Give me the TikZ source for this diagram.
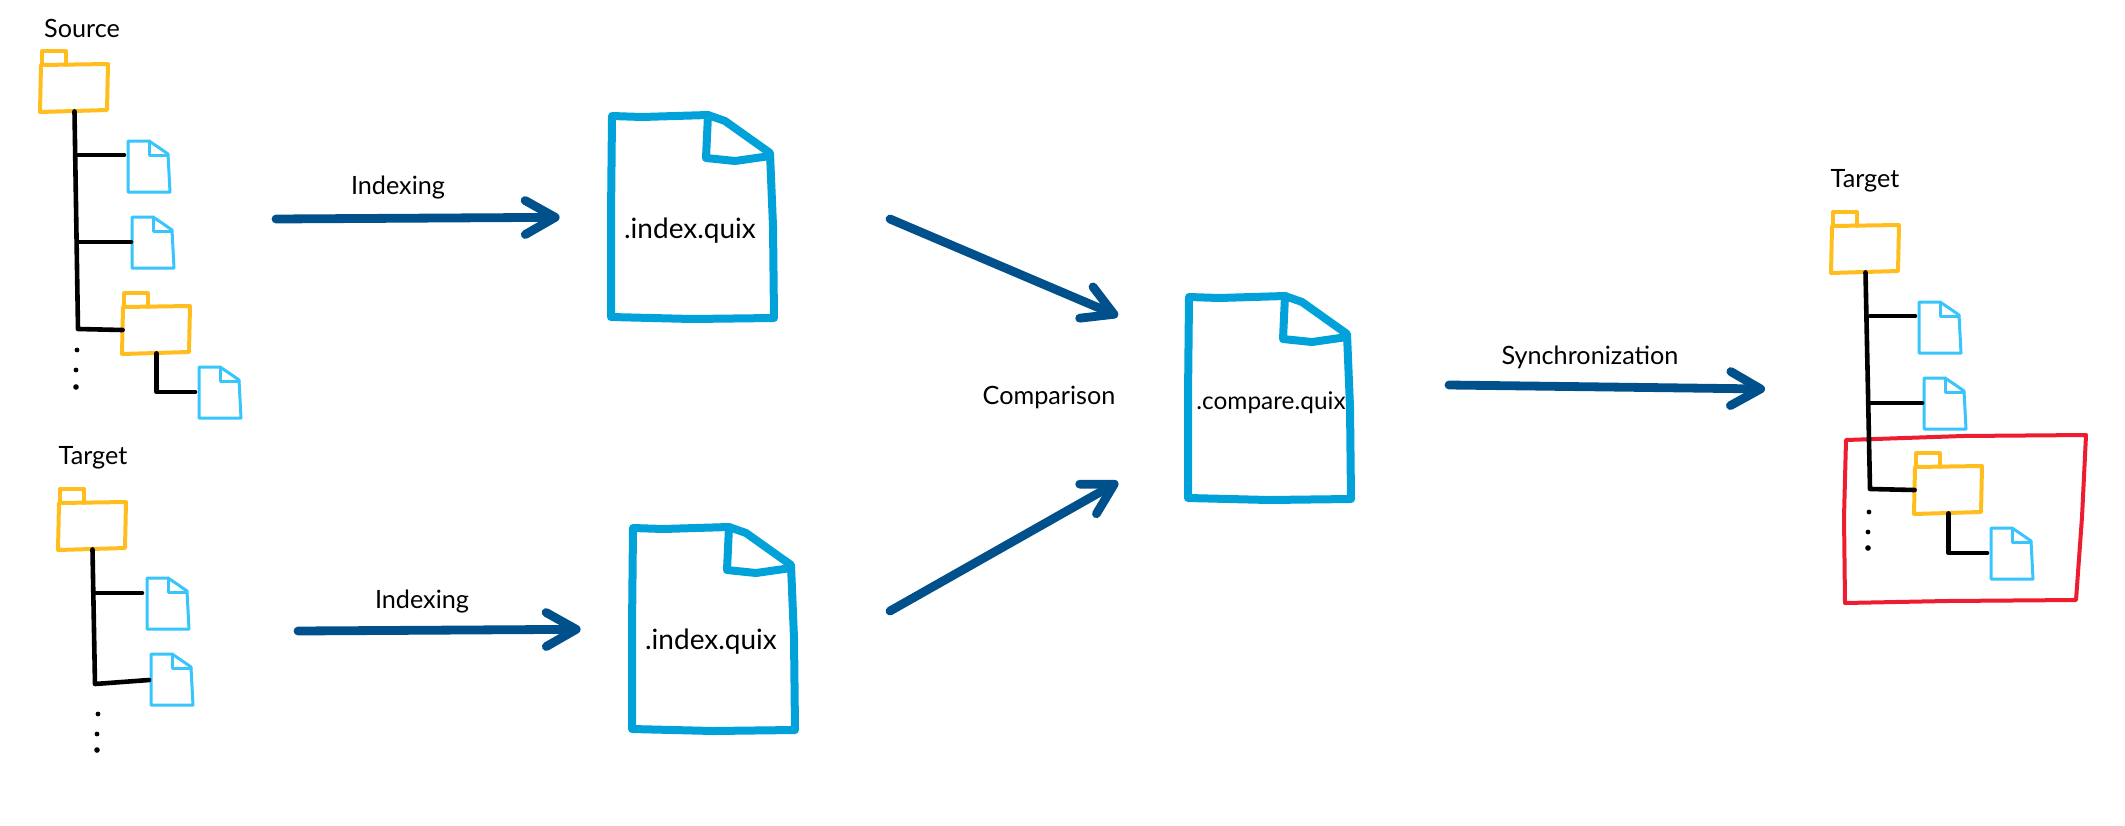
\documentclass[tikz,border=0pt]{standalone}
\usepackage{fontspec}
\setmainfont{Lato}
\usetikzlibrary{arrows.meta}
\definecolor{FolderCol}{HTML}{FFBE1E}
\definecolor{FileCol}{HTML}{38C5FB}
\definecolor{DocCol}{HTML}{00A2D9}
\definecolor{FlowCol}{HTML}{00508C}
\definecolor{MarkCol}{HTML}{ED1C2E}
\tikzset{
  folderbox/.style={minimum width=33.5pt,minimum height=23pt,inner sep=0pt},
  filebox/.style={minimum width=21pt,minimum height=25.5pt,inner sep=0pt},
  docbox/.style={minimum width=80pt,minimum height=101pt,inner sep=0pt},
  folderline/.style={FolderCol,line width=2pt,line join=round,line cap=round},
  fileline/.style={FileCol,line width=1.5pt,line join=round,line cap=round},
  docline/.style={DocCol,line width=4pt,line join=round,line cap=round},
  treeline/.style={black,line width=2.3pt,line join=round,line cap=round},
  flowarrow/.style={FlowCol,line width=4.4pt,line cap=round,
    -{Straight Barb[length=15pt,width=17pt,round]}},
  lab/.style={font=\fontsize{12.6}{14}\selectfont,inner sep=0pt},
  doclab/.style={font=\fontsize{14}{16}\selectfont,inner sep=0pt}
}
% name, left, top of the folder body
\newcommand{\folder}[3]{
  \node[folderbox] (#1) at (#2+33.5,#3+23) {};
  \draw[folderline,shift={(#2,#3)}] (0,0) -- (67,-1) -- (66,45) -- (-1,47) -- cycle;
  \draw[folderline,shift={(#2,#3)}] (1,0) -- (1,-14) -- (25,-14) -- (25,0);
}
% name, left, top, offset of the point where the branch ends
\newcommand{\filedoc}[5]{
  \node[filebox] (#1) at (#2+21,#3+25.5) {};
  \coordinate (#1-in) at (#2+#4,#3+#5);
  \draw[fileline,shift={(#2,#3)}] (0,0) -- (21,0) -- (30,6) -- (40,13) -- (42,51) -- (0,51) -- cycle;
  \draw[fileline,shift={(#2,#3)}] (21,0) -- (21,14) -- (40,14);
}
% name, left, top
\newcommand{\bigdoc}[3]{
  \node[docbox] (#1) at (#2+80,#3+101) {};
  \draw[docline,shift={(#2,#3)}] (0,0) -- (30,1) -- (96,-1) -- (113,5) -- (158,37)
    -- (161,110) -- (162,202) -- (80,203) -- (-1,201) -- (-1,100) -- cycle;
  \draw[docline,shift={(#2,#3)}] (96,-1) -- (94,42) -- (123,45) -- (158,40);
}
\newcommand{\threedots}[3]{
  \fill (#1,#2) circle (1.2pt);
  \fill (#1-1,#2+20) circle (1.2pt);
  \fill (#1-1,#3) circle (1.4pt);
}

\begin{document}
\begin{tikzpicture}[x=0.5pt,y=-0.5pt]
  \useasboundingbox (0,0) rectangle (2125,825);

  % --- Left: source tree ---
  \node[lab] (srclabel) at (82,28) {Source};
  \folder{srcroot}{41}{65}
  \folder{srcsub}{123}{307}
  \filedoc{srcfile1}{128}{141}{-4}{14}
  \filedoc{srcfile2}{132}{217}{-1}{25}
  \filedoc{srcfile3}{199}{367}{-4}{25}
  \coordinate (srccorner) at (78,329);
  \draw[treeline] (srcroot.south) -- (srccorner) -- (srcsub.west);
  \draw[treeline] (srcfile1-in) -- (srcfile1-in -| srccorner);
  \draw[treeline] (srcfile2-in) -- (srcfile2-in -| srccorner);
  \draw[treeline] (srcsub.south) |- (srcfile3-in);
  \threedots{77}{350}{387}

  % --- Left: target tree ---
  \node[lab] (tgtlabel) at (93,458) {Target};
  \folder{tgtroot}{59}{503}
  \filedoc{tgtfile1}{147}{578}{-5}{15}
  \filedoc{tgtfile2}{151}{654}{-2}{26}
  \coordinate (tgtcorner) at (95,684);
  \draw[treeline] (tgtroot.south) -- (tgtcorner) -- (tgtfile2-in);
  \draw[treeline] (tgtfile1-in) -- (tgtfile1-in -| tgtcorner);
  \threedots{98}{714}{750}

  % --- Middle: index files ---
  \bigdoc{indexdoc1}{612}{116}
  \node[doclab] (indextext1) at (690,231) {.index.quix};
  \bigdoc{indexdoc2}{633}{528}
  \node[doclab] (indextext2) at (711,642) {.index.quix};
  \bigdoc{comparedoc}{1189}{297}
  \node[doclab,font=\fontsize{12.2}{15}\selectfont] (comparetext) at (1271,403) {.compare.quix};

  % --- Flow arrows ---
  \coordinate (index1start) at (276,219);
  \coordinate (index2start) at (298,631);
  \draw[flowarrow,shorten >=26pt] (index1start) -- (indexdoc1.west);
  \draw[flowarrow,shorten >=26pt] (index2start) -- (indexdoc2.west);
  \node[lab] (indexlabel1) at (398,188) {Indexing};
  \node[lab] (indexlabel2) at (422,602) {Indexing};
  \coordinate (cmp1start) at (890,219);
  \coordinate (cmp1tip) at (1118,316);
  \coordinate (cmp2start) at (890,611);
  \coordinate (cmp2tip) at (1118,482);
  \draw[flowarrow] (cmp1start) -- (cmp1tip);
  \draw[flowarrow] (cmp2start) -- (cmp2tip);
  \node[lab] (cmplabel) at (1049,397) {Comparison};
  \coordinate (syncstart) at (1449,385);
  \coordinate (synctip) at (1765,389);
  \draw[flowarrow] (syncstart) -- (synctip);
  \node[lab] (synclabel) at (1590,357) {Synchronization};

  % --- Right: synchronized target ---
  \draw[MarkCol,line width=2pt,line join=round] (1846,440) -- (1963,436) -- (2086,435)
    -- (2082,517) -- (2076,600) -- (1947,601) -- (1845,603) -- (1844,517) -- cycle;
  \node[lab] (outlabel) at (1865,181) {Target};
  \folder{outroot}{1832}{226}
  \folder{outsub}{1915}{467}
  \filedoc{outfile1}{1919}{302}{-4}{14}
  \filedoc{outfile2}{1924}{378}{-2}{25}
  \filedoc{outfile3}{1991}{528}{-4}{25}
  \coordinate (outcorner) at (1870,489);
  \draw[treeline] (outroot.south) -- (outcorner) -- (outsub.west);
  \draw[treeline] (outfile1-in) -- (outfile1-in -| outcorner);
  \draw[treeline] (outfile2-in) -- (outfile2-in -| outcorner);
  \draw[treeline] (outsub.south) |- (outfile3-in);
  \threedots{1869}{512}{548}
\end{tikzpicture}
\end{document}
